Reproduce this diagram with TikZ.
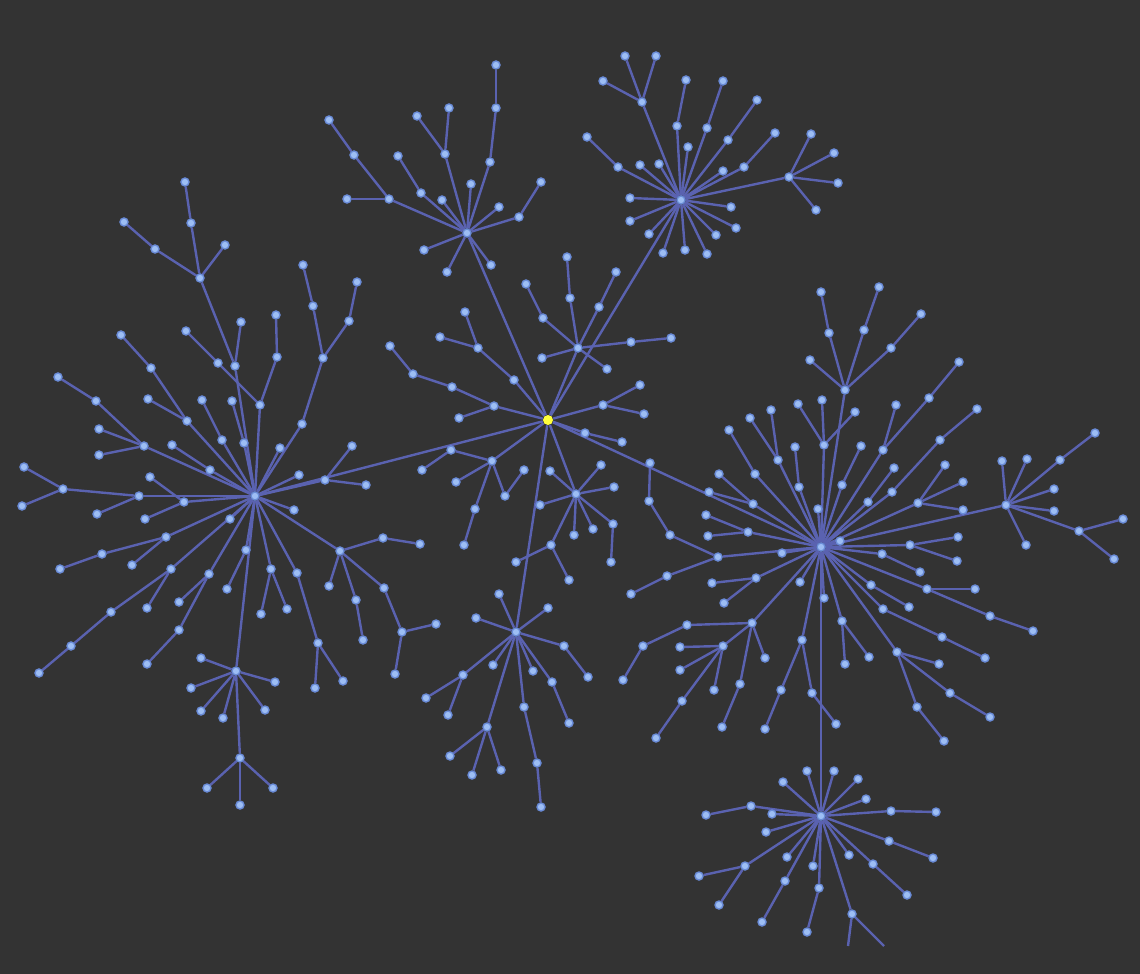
\documentclass[tikz,border=0pt]{standalone}
\pgfdeclarelayer{bgl}
\pgfdeclarelayer{edgel}
\pgfsetlayers{bgl,edgel,main}
\definecolor{bgc}{HTML}{333333}
\definecolor{edgec}{HTML}{5A62B0}
\definecolor{nodefill}{HTML}{9DBEF4}
\definecolor{nodering}{HTML}{6A8CD8}
\definecolor{rootc}{HTML}{FFFF3C}
\begin{document}
\begin{tikzpicture}[x=0.5pt,y=-0.5pt,
  nd/.style={circle,inner sep=0pt,minimum size=4pt,fill=nodefill,draw=nodering,line width=0.7pt},
  rootnd/.style={circle,inner sep=0pt,minimum size=5pt,fill=rootc},
  link/.style={draw=edgec,line width=1.2pt}]
\path[use as bounding box] (0,0) rectangle (1140,974);
\begin{pgfonlayer}{bgl}
\fill[bgc] (0,0) rectangle (1140,974);
\end{pgfonlayer}
\node[rootnd] (n548-420) at (548,420) {};
\def\treedata{%
548/420/467/233, 548/420/681/200, 548/420/255/496, 548/420/821/547, 548/420/516/632,
548/420/578/348, 578/348/570/298, 570/298/567/257, 578/348/599/307, 599/307/616/272,
578/348/543/318, 543/318/526/284, 578/348/542/358, 578/348/607/369, 578/348/631/342,
631/342/671/338, 548/420/514/380, 514/380/478/348, 478/348/465/312, 478/348/440/337,
548/420/494/406, 494/406/452/387, 452/387/413/374, 413/374/390/346, 494/406/459/418,
548/420/603/405, 603/405/640/385, 603/405/644/414, 548/420/585/433, 585/433/622/442,
548/420/492/461, 492/461/451/450, 451/450/422/470, 492/461/456/482, 492/461/505/496,
505/496/524/470, 492/461/475/509, 475/509/464/545, 548/420/576/494, 576/494/550/471,
576/494/601/465, 576/494/614/487, 576/494/540/505, 576/494/574/535, 576/494/593/529,
576/494/613/524, 613/524/611/562, 576/494/551/545, 551/545/516/562, 551/545/569/580,
467/233/490/162, 490/162/496/108, 496/108/496/65, 467/233/445/154, 445/154/449/108,
445/154/417/116, 467/233/389/199, 389/199/354/155, 354/155/329/120, 389/199/347/199,
467/233/421/193, 421/193/398/156, 467/233/442/200, 467/233/471/184, 467/233/499/207,
467/233/519/217, 519/217/541/182, 467/233/424/250, 467/233/447/272, 467/233/491/265,
681/200/642/102, 642/102/625/56, 642/102/656/56, 642/102/603/81, 681/200/677/126,
677/126/686/80, 681/200/707/128, 707/128/723/81, 681/200/728/140, 728/140/757/100,
681/200/688/147, 681/200/744/167, 744/167/775/133, 681/200/723/171, 681/200/618/167,
618/167/587/137, 681/200/640/165, 681/200/659/164, 681/200/630/198, 681/200/630/221,
681/200/649/234, 681/200/663/253, 681/200/685/250, 681/200/707/254, 681/200/716/235,
681/200/736/228, 681/200/731/207, 681/200/789/177, 789/177/811/134, 789/177/834/153,
789/177/838/183, 789/177/816/210,
255/496/144/446, 144/446/99/429, 144/446/99/455, 144/446/96/401, 96/401/58/377,
255/496/187/421, 187/421/151/368, 151/368/121/335, 187/421/148/399, 255/496/260/405,
260/405/218/363, 218/363/186/331, 260/405/277/357, 277/357/276/315, 255/496/235/366,
235/366/241/322, 235/366/200/278, 200/278/191/223, 191/223/185/182, 200/278/155/249,
155/249/124/222, 200/278/225/245, 255/496/222/440, 222/440/202/400, 255/496/244/443,
244/443/232/401, 255/496/210/470, 210/470/172/445, 255/496/280/448, 255/496/302/424,
302/424/323/358, 323/358/313/306, 313/306/303/265, 323/358/349/321, 349/321/357/282,
255/496/325/480, 325/480/352/446, 325/480/366/485, 255/496/299/475, 255/496/294/510,
255/496/139/496, 139/496/63/489, 63/489/24/467, 63/489/22/506, 139/496/97/514,
255/496/184/502, 184/502/150/477, 184/502/145/519, 255/496/230/519, 255/496/166/537,
166/537/102/554, 102/554/60/569, 166/537/132/565, 255/496/171/569, 171/569/111/612,
111/612/71/646, 71/646/39/673, 171/569/147/608, 255/496/209/574, 209/574/179/630,
179/630/147/664, 209/574/179/602, 255/496/246/550, 246/550/227/589, 255/496/271/569,
271/569/261/614, 271/569/287/609, 255/496/297/573, 297/573/318/643, 318/643/315/688,
318/643/343/681, 255/496/340/551, 340/551/383/538, 383/538/420/544, 340/551/329/586,
340/551/356/600, 356/600/363/640, 340/551/384/588, 384/588/402/632, 402/632/436/624,
402/632/395/674, 255/496/236/671, 236/671/201/658, 236/671/191/688, 236/671/275/682,
236/671/201/711, 236/671/223/718, 236/671/265/710, 236/671/240/758, 240/758/207/788,
240/758/273/788, 240/758/240/805,
516/632/499/594, 516/632/548/608, 516/632/476/618, 516/632/564/646, 564/646/588/677,
516/632/493/665, 516/632/533/671, 516/632/552/682, 552/682/569/723, 516/632/463/675,
463/675/426/698, 463/675/448/715, 516/632/524/707, 524/707/537/763, 537/763/541/807,
516/632/487/727, 487/727/450/756, 487/727/472/775, 487/727/501/770,
821/547/845/390, 845/390/829/333, 829/333/821/292, 845/390/864/330, 864/330/879/287,
845/390/891/348, 891/348/921/314, 845/390/810/360, 821/547/883/450, 883/450/929/398,
929/398/959/362, 883/450/896/405, 821/547/892/492, 892/492/940/440, 940/440/977/409,
821/547/824/445, 824/445/798/404, 824/445/822/400, 824/445/855/412, 821/547/842/485,
842/485/861/446, 821/547/778/460, 778/460/771/410, 778/460/750/418, 821/547/755/474,
755/474/729/430, 821/547/799/487, 799/487/795/447, 821/547/753/504, 753/504/719/474,
753/504/709/492, 821/547/748/532, 748/532/706/515, 748/532/708/536, 821/547/818/509,
821/547/868/502, 868/502/894/468, 821/547/918/503, 918/503/945/465, 918/503/963/482,
918/503/963/510, 821/547/840/541, 821/547/910/545, 910/545/958/537, 910/545/957/561,
821/547/782/553, 821/547/718/557, 718/557/670/535, 670/535/649/501, 649/501/650/463,
718/557/667/576, 667/576/631/594, 821/547/882/554, 882/554/920/572, 821/547/756/578,
756/578/712/583, 756/578/724/603, 821/547/800/582, 821/547/824/598, 821/547/752/623,
752/623/687/625, 687/625/643/646, 643/646/623/680, 752/623/723/646, 723/646/680/647,
723/646/680/670, 723/646/714/690, 723/646/682/701, 682/701/656/738, 752/623/740/684,
740/684/722/727, 752/623/765/658, 821/547/802/640, 802/640/781/690, 781/690/765/729,
802/640/812/693, 812/693/836/724, 821/547/842/621, 842/621/845/664, 842/621/869/657,
821/547/897/652, 897/652/939/664, 897/652/950/693, 950/693/990/717, 897/652/917/707,
917/707/944/741, 821/547/871/585, 871/585/909/607, 821/547/883/609, 883/609/942/637,
942/637/985/658, 821/547/927/589, 927/589/975/589, 927/589/990/616, 990/616/1033/631,
821/547/1006/505, 821/547/821/816,
1006/505/1002/461, 1006/505/1027/459, 1006/505/1060/460, 1060/460/1095/433,
1006/505/1054/489, 1006/505/1054/511, 1006/505/1079/531, 1079/531/1123/519,
1079/531/1114/559, 1006/505/1026/545,
821/816/807/771, 821/816/834/771, 821/816/783/782, 821/816/858/779, 821/816/866/799,
821/816/751/806, 751/806/706/815, 821/816/772/814, 821/816/766/832, 821/816/891/811,
891/811/936/812, 821/816/889/841, 889/841/933/858, 821/816/849/855, 821/816/873/864,
873/864/907/895, 821/816/787/857, 821/816/813/866, 821/816/745/866, 745/866/699/876,
745/866/719/905, 821/816/785/881, 785/881/762/922, 821/816/819/888, 819/888/807/932,
821/816/852/914}
\foreach \px/\py/\cx/\cy in \treedata {
  \node[nd] (n\cx-\cy) at (\cx,\cy) {};
}
\coordinate (endA) at (848,946);
\coordinate (endB) at (884,946);
\begin{pgfonlayer}{edgel}
\foreach \px/\py/\cx/\cy in \treedata {
  \draw[link] (n\px-\py) -- (n\cx-\cy);
}
\draw[link] (n852-914) -- (endA);
\draw[link] (n852-914) -- (endB);
\end{pgfonlayer}
\end{tikzpicture}
\end{document}
